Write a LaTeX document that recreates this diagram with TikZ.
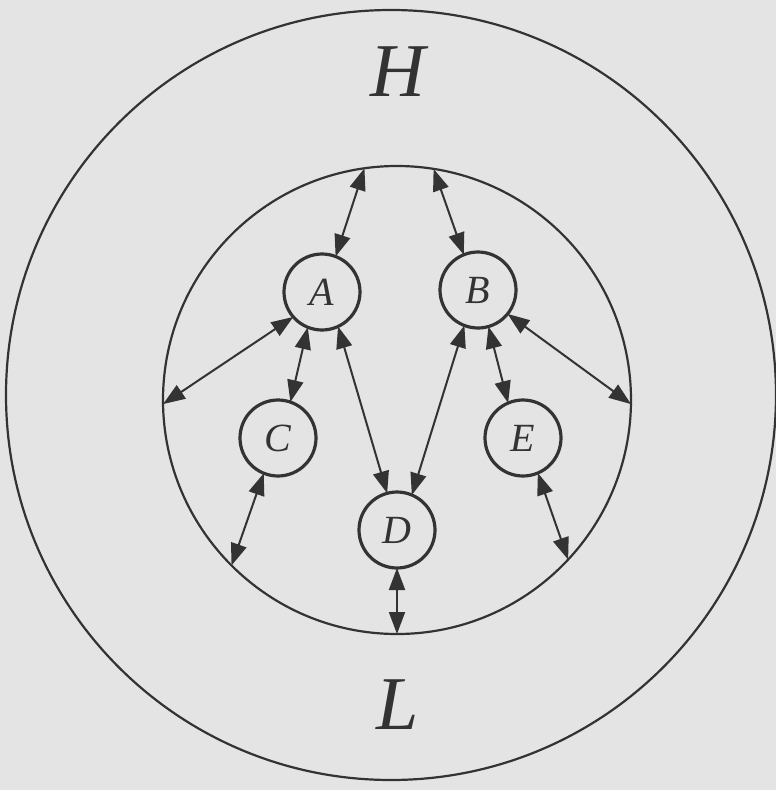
\documentclass[tikz,border=0pt]{standalone}
\usepackage{fontspec}
\setmainfont{Liberation Serif}
\usetikzlibrary{arrows.meta}
\definecolor{ink}{HTML}{333333}
\definecolor{paper}{HTML}{E4E4E4}
\tikzset{
  agent/.style={circle,draw=ink,line width=3.2pt,minimum size=76pt,inner sep=0pt,outer sep=0pt,
    font=\fontsize{40}{40}\selectfont\itshape,text=ink},
  ring/.style={circle,draw=ink,line width=2.2pt,inner sep=0pt,outer sep=0pt},
  tipshape/.tip={Triangle[length=22pt,width=16pt]},
  link/.style={draw=ink,line width=2pt,tipshape-tipshape},
  biglabel/.style={font=\fontsize{76}{76}\selectfont\itshape,text=ink}
}
\begin{document}
\begin{tikzpicture}[x=1pt,y=-1pt]
\fill[paper] (0,0) rectangle (776,790);
\useasboundingbox (0,0) rectangle (776,790);
\node[ring,minimum size=770pt] (outer) at (391,395) {};
\node[ring,minimum size=468pt] (inner) at (397,400) {};
\node[biglabel] (H) at (398,72) {H};
\node[biglabel] (L) at (398,705) {L};
\node[agent] (A) at (322,292) {A};
\node[agent] (B) at (478,290) {B};
\node[agent] (C) at (278,438) {C};
\node[agent] (E) at (523,438) {E};
\node[agent] (D) at (397,530) {D};
\draw[link] (inner.98) -- (A.69);
\draw[link] (inner.81) -- (B.112);
\draw[link] (A.-139) -- (inner.181);
\draw[link] (B.-39) -- (inner.-1);
\draw[link] (A.-112) -- (C.71);
\draw[link] (A.-65) -- (D.105);
\draw[link] (B.-111) -- (D.67);
\draw[link] (B.-74) -- (E.113);
\draw[link] (C.-112) -- (inner.-135);
\draw[link] (E.-67) -- (inner.-43);
\draw[link] (D.south) -- (inner.south);
\end{tikzpicture}
\end{document}
